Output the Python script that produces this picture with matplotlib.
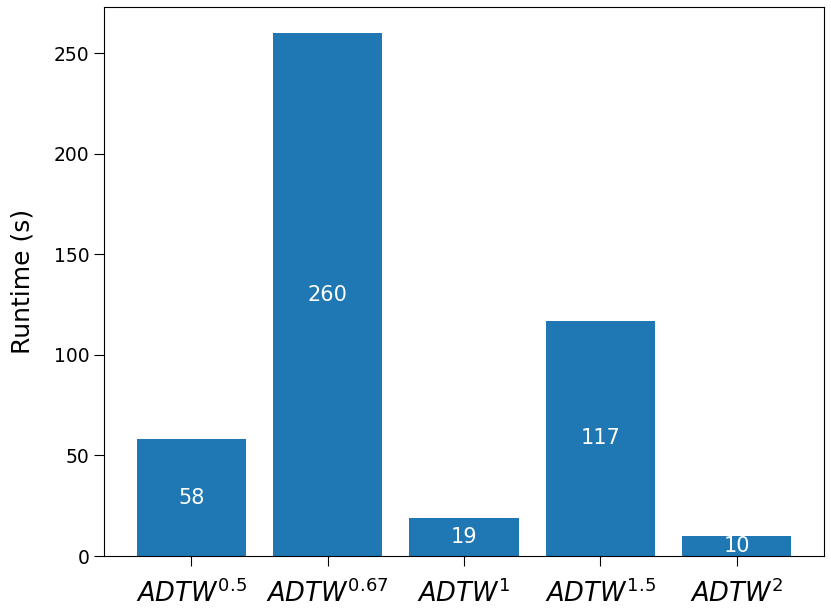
import matplotlib
matplotlib.use("Agg")
import matplotlib.pyplot as plt

categories = [r"$ADTW^{0.5}$", r"$ADTW^{0.67}$", r"$ADTW^{1}$", r"$ADTW^{1.5}$", r"$ADTW^{2}$"]
runtimes = [58, 260, 19, 117, 10]

fig = plt.figure(figsize=(8.31, 6.15), dpi=100)
ax = fig.add_subplot(111)
fig.subplots_adjust(left=104/831, right=824/831, top=1-7/615, bottom=1-556/615)

bars = ax.bar(range(len(categories)), runtimes, width=0.8, color="#1f77b4")
ax.bar_label(bars, labels=[str(v) for v in runtimes], label_type="center",
             color="white", fontsize=15)
ax.set_xticks(range(len(categories)))
ax.set_xticklabels(categories, fontsize=18.5)
ax.tick_params(axis="x", length=7, pad=10)
ax.tick_params(axis="y", labelsize=13.5, length=7)
ax.set_ylabel("Runtime (s)", fontsize=18, labelpad=14)

fig.savefig("out.png", dpi=100)
